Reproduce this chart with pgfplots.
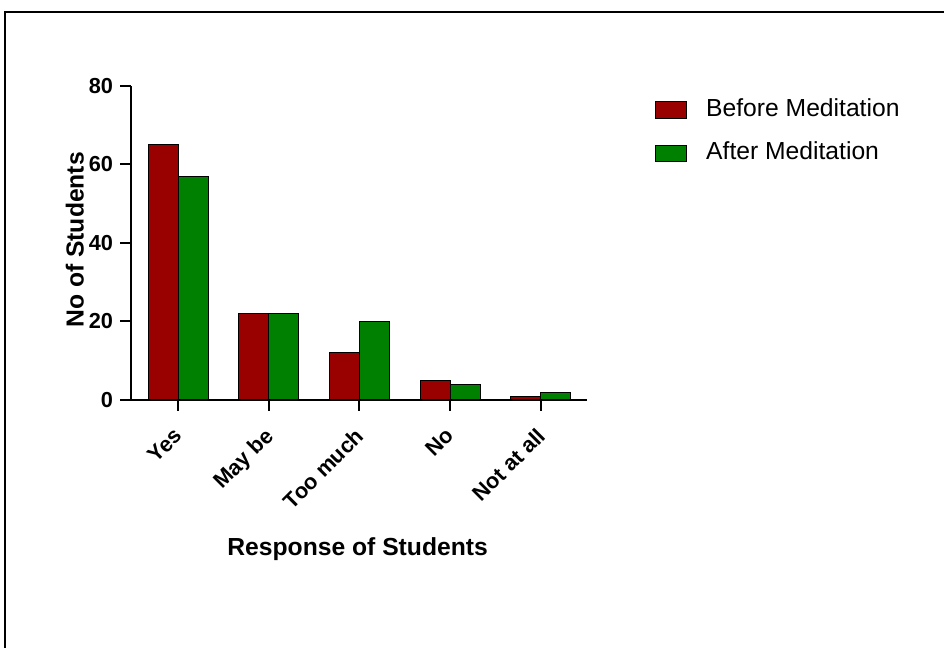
\documentclass[border=0pt]{standalone}
\usepackage{fontspec}
\setmainfont{Liberation Sans}
\usepackage{pgfplots}
\pgfplotsset{compat=1.18}
\definecolor{bef}{RGB}{153,0,0}
\definecolor{aft}{RGB}{0,128,0}
\pgfplotsset{mybarlegend/.style={legend image code/.code={\draw[##1] (0pt,-1.5pt) rectangle (23pt,11pt);}}}
\begin{document}
\begin{tikzpicture}
\useasboundingbox (0,0) rectangle (708pt,486pt);
\draw[line width=1.5pt] (3.75pt,0pt) -- (3.75pt,477pt) -- (709pt,477pt);
\begin{axis}[
  at={(98.25pt,186pt)}, anchor=south west,
  scale only axis, width=342pt, height=235.5pt,
  ymin=0, ymax=80, ytick={0,20,40,60,80},
  xmin=-0.52, xmax=4.51,
  xtick={0,1,2,3,4}, xticklabels={Yes, May be, Too much, No, Not at all},
  axis lines=left, axis line style={line width=1.5pt, -},
  ybar=0pt, bar width=22.5pt,
  tick style={line width=1.5pt, black},
  major tick length=8.25pt,
  tick align=outside,
  ticklabel style={font=\bfseries\fontsize{16.3}{19}\selectfont},
  /pgf/number format/assume math mode=true,
  yticklabel style={inner sep=0pt, xshift=-5pt},
  xticklabel style={xshift=-4pt, yshift=-10pt, rotate=45, anchor=north east, inner sep=1pt},
  xlabel={Response of Students}, ylabel={No of Students},
  label style={font=\bfseries\fontsize{18.5}{22}\selectfont},
  xlabel style={at={(axis description cs:0.497,-0.476)}, anchor=center},
  ylabel style={at={(axis description cs:-0.123,0.51)}, anchor=center},
  legend style={at={(axis description cs:1.149,0.962)}, anchor=north west,
    draw=none, fill=none, inner sep=0pt, row sep=17.5pt, column sep=14.5pt,
    nodes={inner sep=0pt, anchor=base west},
    font=\fontsize{18.5}{22}\selectfont},
  legend cell align=left,
]
\addplot[fill=bef, draw=black, line width=0.75pt, mybarlegend]
  coordinates {(0,65) (1,22) (2,12) (3,5) (4,1)};
\addlegendentry{Before Meditation}
\addplot[fill=aft, draw=black, line width=0.75pt, mybarlegend]
  coordinates {(0,57) (1,22) (2,20) (3,4) (4,2)};
\addlegendentry{After Meditation}
\end{axis}
\end{tikzpicture}
\end{document}
